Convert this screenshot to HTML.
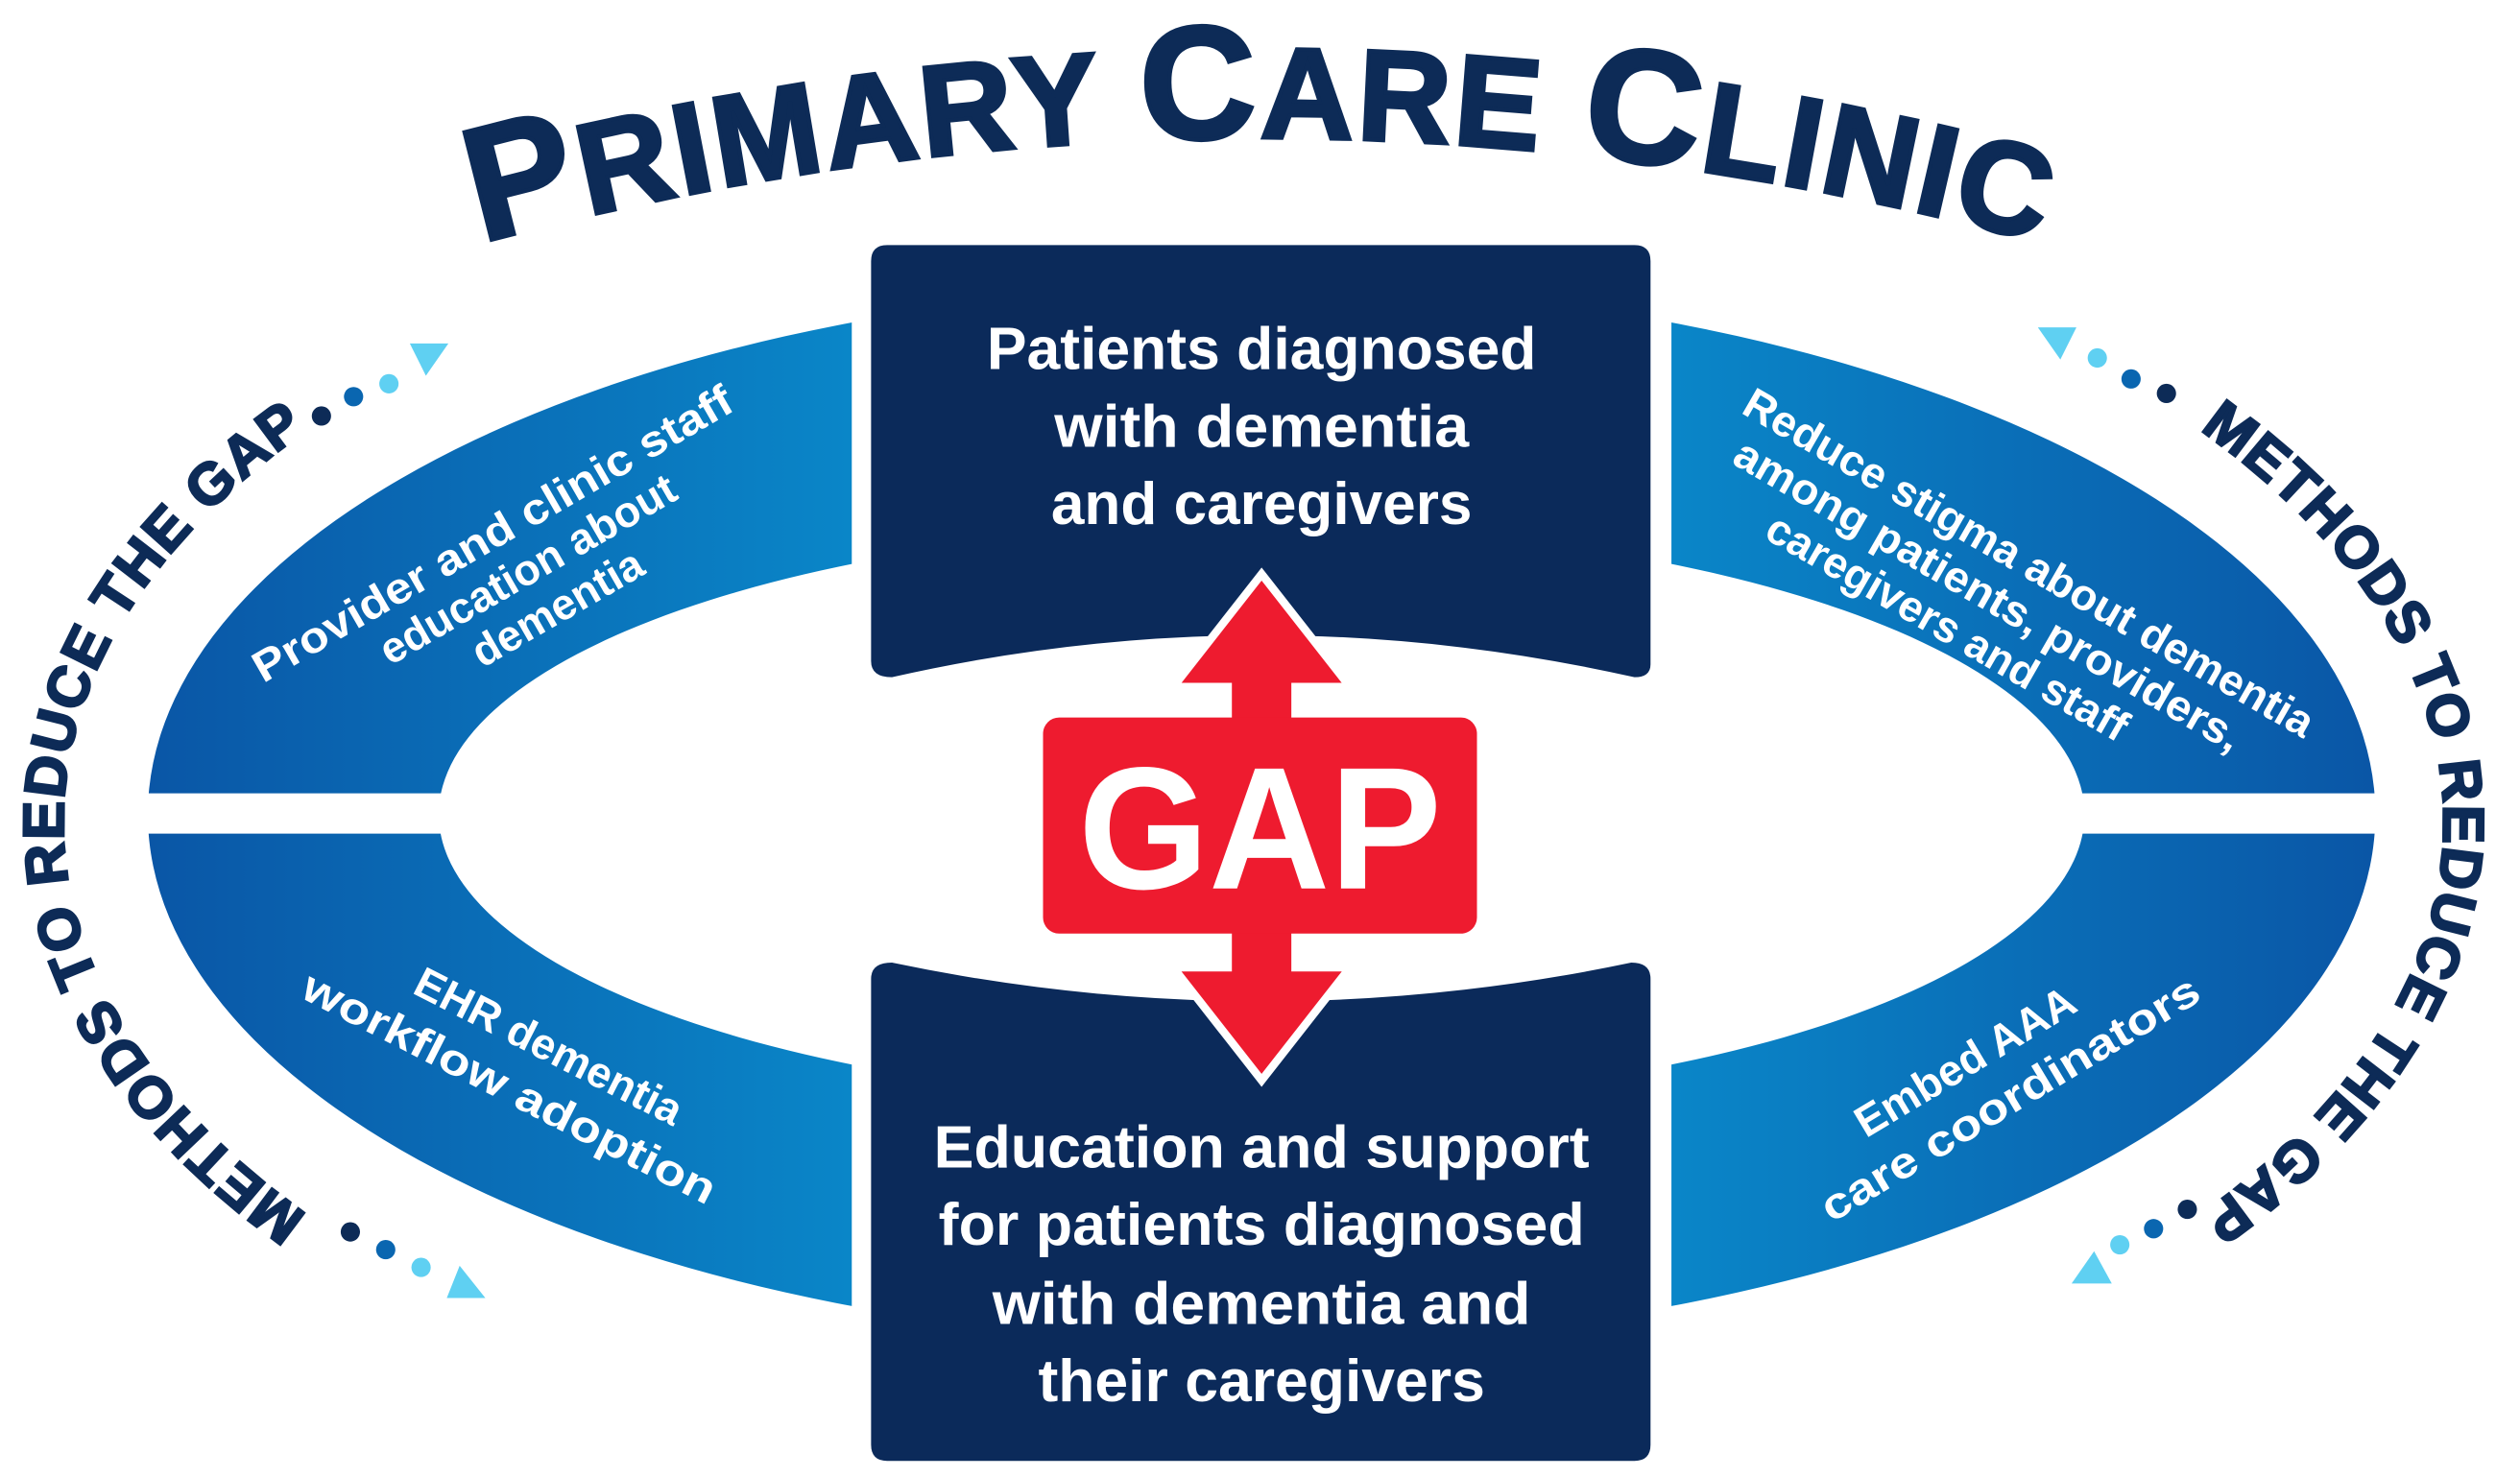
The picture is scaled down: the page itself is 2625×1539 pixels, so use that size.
<!DOCTYPE html>
<html><head><meta charset="utf-8"><style>
html,body{margin:0;padding:0;background:#fff;}
svg{display:block;}
text{font-family:"Liberation Sans",sans-serif;font-weight:bold;}
</style></head><body>
<svg width="2625" height="1539" viewBox="0 0 1568 916" preserveAspectRatio="none" xmlns="http://www.w3.org/2000/svg">
<defs>
<linearGradient id="gl" x1="92" y1="0" x2="530" y2="0" gradientUnits="userSpaceOnUse">
<stop offset="0" stop-color="#0a56a6"/><stop offset="1" stop-color="#0a86c8"/></linearGradient>
<linearGradient id="gr" x1="1040" y1="0" x2="1477" y2="0" gradientUnits="userSpaceOnUse">
<stop offset="0" stop-color="#0a86c8"/><stop offset="1" stop-color="#0a56a6"/></linearGradient>
<clipPath id="ctl"><rect x="0" y="0" width="530" height="492"/></clipPath>
<clipPath id="cbl"><rect x="0" y="517" width="530" height="500"/></clipPath>
<clipPath id="ctr"><rect x="1040" y="0" width="600" height="492"/></clipPath>
<clipPath id="cbr"><rect x="1040" y="517" width="600" height="500"/></clipPath>
<path id="ring" fill-rule="evenodd" d="M92,505 A693,328 0 1 0 1478,505 A693,328 0 1 0 92,505 Z M273,505 A512,179 0 1 0 1297,505 A512,179 0 1 0 273,505 Z"/>
<path id="tarc" d="M240,168 A1842,1842 0 0 1 1330,168"/>
<path id="larc" d="M195,756 A735,400 0 0 1 195,264"/>
<path id="rarc" d="M1365,264 A735,400 0 0 1 1365,756"/>
</defs>

<use href="#ring" fill="url(#gl)" clip-path="url(#ctl)"/>
<use href="#ring" fill="url(#gl)" clip-path="url(#cbl)"/>
<use href="#ring" fill="url(#gr)" clip-path="url(#ctr)"/>
<use href="#ring" fill="url(#gr)" clip-path="url(#cbr)"/>

<!-- title -->
<text fill="#0d2b57" stroke="#0d2b57" stroke-width="2.5" font-size="80" letter-spacing="2"><textPath href="#tarc" startOffset="50%" text-anchor="middle"><tspan font-size="100">P</tspan>RIMARY <tspan font-size="100">C</tspan>ARE <tspan font-size="100">C</tspan>LINIC</textPath></text>

<!-- side texts -->
<text fill="#0d2b57" stroke="#0d2b57" stroke-width="1.5" font-size="36" letter-spacing="1"><textPath href="#larc" startOffset="50%" text-anchor="middle">METHODS TO REDUCE THE GAP</textPath></text>
<text fill="#0d2b57" stroke="#0d2b57" stroke-width="1.5" font-size="36" letter-spacing="1"><textPath href="#rarc" startOffset="50%" text-anchor="middle">METHODS TO REDUCE THE GAP</textPath></text>

<!-- dots -->
<circle cx="200" cy="258" r="6" fill="#0d2b57"/><circle cx="220" cy="246" r="6" fill="#0a66b0"/><circle cx="242" cy="238" r="6" fill="#5fd0f2"/>
<polygon points="255,213 279,213 265,233" fill="#5fd0f2"/>
<circle cx="1348" cy="244" r="6" fill="#0d2b57"/><circle cx="1326" cy="235" r="6" fill="#0a66b0"/><circle cx="1305" cy="222" r="6" fill="#5fd0f2"/>
<polygon points="1268,203 1292,203 1282,223" fill="#5fd0f2"/>
<circle cx="218" cy="764" r="6" fill="#0d2b57"/><circle cx="240" cy="775" r="6" fill="#0a66b0"/><circle cx="262" cy="786" r="6" fill="#5fd0f2"/>
<polygon points="278,805 302,805 286,785" fill="#5fd0f2"/>
<circle cx="1361" cy="750" r="6" fill="#0d2b57"/><circle cx="1340" cy="762" r="6" fill="#0a66b0"/><circle cx="1319" cy="772" r="6" fill="#5fd0f2"/>
<polygon points="1289,796 1314,796 1303,776" fill="#5fd0f2"/>

<!-- ring texts -->
<g fill="#fff" font-size="27" font-weight="600" text-anchor="middle">
<g transform="translate(322,358) rotate(-30)">
<text x="0" y="-22" textLength="340" lengthAdjust="spacingAndGlyphs">Provider and clinic staff</text>
<text x="8" y="8">education about</text>
<text x="12" y="38">dementia</text>
</g>
<g transform="translate(1240,372) rotate(30)">
<text x="8" y="-22" textLength="405" lengthAdjust="spacingAndGlyphs">Reduce stigma about dementia</text>
<text x="-4" y="8" textLength="360" lengthAdjust="spacingAndGlyphs">among patients, providers,</text>
<text x="-16" y="38">caregivers and staff</text>
</g>
<g transform="translate(322,665) rotate(27)">
<text x="10" y="-14">EHR dementia</text>
<text x="0" y="20" textLength="285" lengthAdjust="spacingAndGlyphs">workflow adoption</text>
</g>
<g transform="translate(1245,672) rotate(-31)">
<text x="-12" y="-14">Embed AAA</text>
<text x="0" y="20" textLength="270" lengthAdjust="spacingAndGlyphs">care coordinators</text>
</g>
</g>

<!-- boxes -->
<path d="M552,152 H1017 Q1027,152 1027,162 V412 Q1027,420 1017,420 Q785,368 555,420 Q542,420 542,410 V162 Q542,152 552,152 Z" fill="#0b2a5a"/>
<path d="M555,597 Q785,645 1015,597 Q1027,597 1027,607 V896 Q1027,906 1017,906 H552 Q542,906 542,896 V607 Q542,597 555,597 Z" fill="#0b2a5a"/>

<g fill="#fff" font-size="37" font-weight="600" text-anchor="middle">
<text x="785" y="229" textLength="342" lengthAdjust="spacingAndGlyphs">Patients diagnosed</text>
<text x="785" y="277" textLength="258" lengthAdjust="spacingAndGlyphs">with dementia</text>
<text x="785" y="325" textLength="262" lengthAdjust="spacingAndGlyphs">and caregivers</text>
<text x="785" y="724" textLength="408" lengthAdjust="spacingAndGlyphs">Education and support</text>
<text x="785" y="772" textLength="402" lengthAdjust="spacingAndGlyphs">for patients diagnosed</text>
<text x="785" y="821" textLength="335" lengthAdjust="spacingAndGlyphs">with dementia and</text>
<text x="785" y="869" textLength="278" lengthAdjust="spacingAndGlyphs">their caregivers</text>
</g>

<!-- arrow -->
<polygon points="785,356 840,426 806,426 806,600 840,600 785,670 730,600 764,600 764,426 730,426" fill="#ee1b2f" stroke="#fff" stroke-width="5" stroke-linejoin="miter"/>
<rect x="649" y="445" width="270" height="134" rx="10" fill="#ee1b2f"/>
<text x="784" y="551" fill="#fff" font-size="108" font-weight="900" text-anchor="middle" textLength="226" lengthAdjust="spacingAndGlyphs">GAP</text>
</svg>
</body></html>
